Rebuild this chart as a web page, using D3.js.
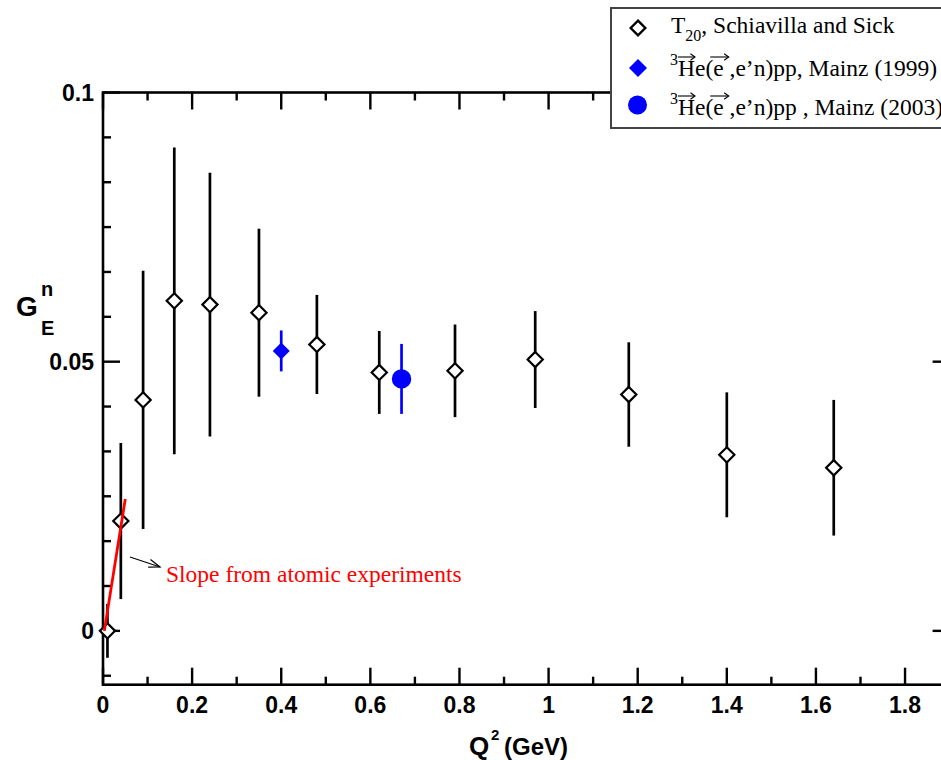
<!DOCTYPE html>
<html>
<head>
<meta charset="utf-8">
<script src="https://cdn.jsdelivr.net/npm/d3@7"></script>
<style>
  html, body { margin: 0; padding: 0; background: #fff; }
  svg { display: block; }
  text { white-space: pre; }
</style>
</head>
<body>
<svg id="chart" width="941" height="760"></svg>
<script>
// T20 extraction (Schiavilla and Sick)
const t20Q2  = [0.01, 0.04, 0.09, 0.16, 0.24, 0.35, 0.48, 0.62, 0.79, 0.97, 1.18, 1.40, 1.64];
const t20GE  = [0.0, 0.0204, 0.0429, 0.0613, 0.0606, 0.0591, 0.0532, 0.0480, 0.0483, 0.0504, 0.0439, 0.0327, 0.0303];
const t20Err = [0.005, 0.0145, 0.024, 0.0285, 0.0245, 0.0156, 0.0092, 0.0077, 0.0086, 0.0090, 0.0097, 0.0116, 0.0126];

// polarized 3He(e,e'n)pp, Mainz
const mainz1999Q2 = [0.40];
const mainz1999GE = [0.0520];
const mainz1999Err = [0.0038];
const mainz2003Q2 = [0.67];
const mainz2003GE = [0.0468];
const mainz2003Err = [0.0065];

// slope at Q^2 = 0 from neutron-electron scattering
const slopeQ2 = [0.003, 0.05];
const slopeGE = [0.0, 0.0245];

const xTickValues = [0, 0.2, 0.4, 0.6, 0.8, 1.0, 1.2, 1.4, 1.6, 1.8];
const xTickLabels = ["0", "0.2", "0.4", "0.6", "0.8", "1", "1.2", "1.4", "1.6", "1.8"];
const yTickValues = [0, 0.05, 0.1];
const yTickLabels = ["0", "0.05", "0.1"];

const svg = d3.select("#chart");
const plotLeft = 103, plotRight = 949.6, plotTop = 92.5, plotBottom = 684.7;

const x = d3.scaleLinear().domain([0, 1.9]).range([plotLeft, plotRight]);
const y = d3.scaleLinear().domain([-0.01, 0.1]).range([plotBottom, plotTop]);

const BLUE = "#0000ff";
const MAJOR = 17, MINOR = 8;

// frame
svg.append("rect")
  .attr("x", plotLeft).attr("y", plotTop)
  .attr("width", plotRight - plotLeft).attr("height", plotBottom - plotTop)
  .attr("fill", "none").attr("stroke", "#000").attr("stroke-width", 2.6);

// minor tick positions
const xMinor = d3.range(0.1, 1.9, 0.2);
const yMinor = d3.range(0, 0.1, 0.05 / 6).concat([-0.05 / 6]);

// bottom and top axes with inward ticks
function xAxisTicks(yPos, dir) {
  const g = svg.append("g");
  g.selectAll(".maj").data(xTickValues).join("line")
    .attr("class", "maj")
    .attr("x1", d => x(d)).attr("x2", d => x(d))
    .attr("y1", yPos).attr("y2", yPos + dir * MAJOR);
  g.selectAll(".min").data(xMinor).join("line")
    .attr("class", "min")
    .attr("x1", d => x(d)).attr("x2", d => x(d))
    .attr("y1", yPos).attr("y2", yPos + dir * MINOR);
  g.selectAll("line").attr("stroke", "#000").attr("stroke-width", 2.4);
}
xAxisTicks(plotBottom, -1);
xAxisTicks(plotTop, 1);

function yAxisTicks(xPos, dir) {
  const g = svg.append("g");
  g.selectAll(".maj").data(yTickValues).join("line")
    .attr("class", "maj")
    .attr("x1", xPos).attr("x2", xPos + dir * MAJOR)
    .attr("y1", d => y(d)).attr("y2", d => y(d));
  const minors = yMinor.filter(v => !yTickValues.some(t => Math.abs(t - v) < 1e-6));
  g.selectAll(".min").data(minors).join("line")
    .attr("class", "min")
    .attr("x1", xPos).attr("x2", xPos + dir * MINOR)
    .attr("y1", d => y(d)).attr("y2", d => y(d));
  g.selectAll("line").attr("stroke", "#000").attr("stroke-width", 2.4);
}
yAxisTicks(plotLeft, 1);
yAxisTicks(plotRight, -1);

// tick labels
const tickFont = "'Liberation Sans', Arial, sans-serif";
svg.append("g").selectAll("text").data(xTickValues).join("text")
  .attr("x", d => x(d)).attr("y", 713)
  .attr("text-anchor", "middle")
  .attr("font-family", tickFont).attr("font-weight", "bold").attr("font-size", 23)
  .text((d, i) => xTickLabels[i]);
svg.append("g").selectAll("text").data(yTickValues).join("text")
  .attr("x", 94).attr("y", d => y(d) + 8)
  .attr("text-anchor", "end")
  .attr("font-family", tickFont).attr("font-weight", "bold").attr("font-size", 23)
  .text((d, i) => yTickLabels[i]);

// axis titles
const yl = svg.append("text")
  .attr("font-family", tickFont).attr("font-weight", "bold");
yl.append("tspan").attr("x", 16).attr("y", 316).attr("font-size", 28).text("G");
yl.append("tspan").attr("x", 41).attr("y", 296).attr("font-size", 20).text("n");
yl.append("tspan").attr("x", 41).attr("y", 335).attr("font-size", 20).text("E");

const xl = svg.append("text")
  .attr("font-family", tickFont).attr("font-weight", "bold");
xl.append("tspan").attr("x", 469).attr("y", 755).attr("font-size", 26).text("Q");
xl.append("tspan").attr("x", 491).attr("y", 740).attr("font-size", 15).text("2");
xl.append("tspan").attr("x", 504).attr("y", 755).attr("font-size", 24).text("(GeV)");

// error bars
function errorBars(xs, ys, es, color) {
  svg.append("g").selectAll("line").data(xs).join("line")
    .attr("x1", d => x(d)).attr("x2", d => x(d))
    .attr("y1", (d, i) => y(ys[i] - es[i]))
    .attr("y2", (d, i) => y(ys[i] + es[i]))
    .attr("stroke", color).attr("stroke-width", 2.7);
}
errorBars(t20Q2, t20GE, t20Err, "#000");
errorBars(mainz1999Q2, mainz1999GE, mainz1999Err, BLUE);
errorBars(mainz2003Q2, mainz2003GE, mainz2003Err, BLUE);

const diamond = r => `M0,${-r}L${r},0L0,${r}L${-r},0Z`;

// markers
svg.append("g").selectAll("path").data(t20Q2).join("path")
  .attr("d", diamond(7.6))
  .attr("transform", (d, i) => `translate(${x(d)},${y(t20GE[i])})`)
  .attr("fill", "#fff").attr("stroke", "#000").attr("stroke-width", 2.2);
svg.append("g").selectAll("path").data(mainz1999Q2).join("path")
  .attr("d", diamond(8.5))
  .attr("transform", (d, i) => `translate(${x(d)},${y(mainz1999GE[i])})`)
  .attr("fill", BLUE);
svg.append("g").selectAll("circle").data(mainz2003Q2).join("circle")
  .attr("cx", d => x(d)).attr("cy", (d, i) => y(mainz2003GE[i]))
  .attr("r", 9.7).attr("fill", BLUE);

// slope line
svg.append("path")
  .datum(slopeQ2.map((q, i) => [q, slopeGE[i]]))
  .attr("d", d3.line().x(d => x(d[0])).y(d => y(d[1])))
  .attr("fill", "none").attr("stroke", "#ff0000").attr("stroke-width", 2.8);

// annotation arrow and label
svg.append("line")
  .attr("x1", 130).attr("y1", 557).attr("x2", 160).attr("y2", 567)
  .attr("stroke", "#000").attr("stroke-width", 1.2);
svg.append("path")
  .attr("d", "M150.5,559.5L160,567L148.2,567.2")
  .attr("fill", "none").attr("stroke", "#000").attr("stroke-width", 1.2);
const serif = "'Liberation Serif', 'Times New Roman', serif";
svg.append("text")
  .attr("x", 166).attr("y", 582)
  .attr("font-family", serif).attr("font-size", 23.5).attr("fill", "#ff0000")
  .text("Slope from atomic experiments");

// legend
const lg = svg.append("g");
lg.append("rect")
  .attr("x", 611).attr("y", 8).attr("width", 345).attr("height", 120)
  .attr("fill", "#fff").attr("stroke", "#444").attr("stroke-width", 2);

lg.append("path").attr("d", diamond(7.3))
  .attr("transform", "translate(638,28)")
  .attr("fill", "#fff").attr("stroke", "#000").attr("stroke-width", 2.4);
lg.append("path").attr("d", diamond(9))
  .attr("transform", "translate(638,68)").attr("fill", BLUE);
lg.append("circle").attr("cx", 637.5).attr("cy", 105).attr("r", 9.5).attr("fill", BLUE);

const lt1 = lg.append("text").attr("font-family", serif).attr("font-size", 23.5);
lt1.append("tspan").attr("x", 671).attr("y", 33).text("T");
lt1.append("tspan").attr("dy", 8).attr("font-size", 16).text("20");
lt1.append("tspan").attr("dy", -8).text(", Schiavilla and Sick");

// arrow above a letter
function vecArrow(x1, x2, yy) {
  lg.append("line").attr("x1", x1).attr("x2", x2).attr("y1", yy).attr("y2", yy)
    .attr("stroke", "#000").attr("stroke-width", 1.1);
  lg.append("path").attr("d", `M${x2 - 4.5},${yy - 3.2}L${x2},${yy}L${x2 - 4.5},${yy + 3.2}`)
    .attr("fill", "none").attr("stroke", "#000").attr("stroke-width", 1.1);
}

function heLabel(baseY, tail) {
  const pieces = [
    { t: "3", size: 16, dy: -11 },
    { t: "H", size: 23.5, dy: 0, arrow: true },
    { t: "e(", size: 23.5, dy: 0 },
    { t: "e", size: 23.5, dy: 0, arrow: true, wide: true },
    { t: tail, size: 23.5, dy: 0 }
  ];
  let cx = 670;
  pieces.forEach(p => {
    const t = lg.append("text")
      .attr("x", cx).attr("y", baseY + p.dy)
      .attr("font-family", serif).attr("font-size", p.size)
      .text(p.t);
    const w = t.node().getComputedTextLength();
    if (p.arrow) {
      if (p.wide) vecArrow(cx - 3, cx + w + 5, baseY - 19);
      else vecArrow(cx, cx + w, baseY - 19);
    }
    cx += w;
  });
}
heLabel(76, " ,e\u2019n)pp, Mainz (1999)");
heLabel(115, " ,e\u2019n)pp , Mainz (2003)");
</script>
</body>
</html>
